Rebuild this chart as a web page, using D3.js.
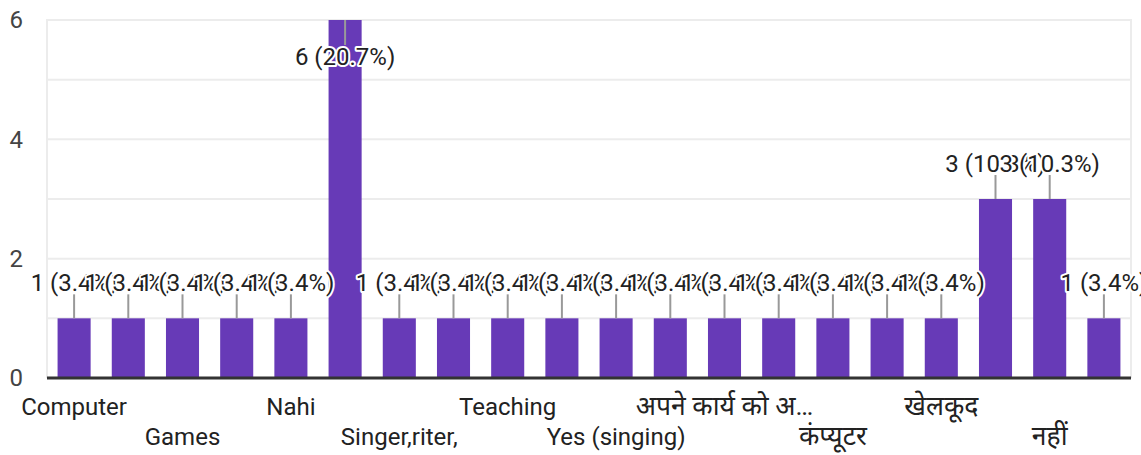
<!DOCTYPE html>
<html>
<head>
<meta charset="utf-8">
<script src="https://cdn.jsdelivr.net/npm/d3@7"></script>
<style>
  body { margin: 0; background: #fff; overflow: hidden; }
  text { font-family: Roboto, "Noto Sans", Arial, sans-serif; }
</style>
</head>
<body>
<div id="chart"></div>
<script>
// Answer options (every other one is hidden on the axis, as in the form summary)
const categories = [
  "Computer", "Dancing", "Games", "Music", "Nahi", "No",
  "Singer,riter,", "Singing", "Teaching", "Yes",
  "Yes (singing)", "अध्ययन", "अपने कार्य को अ…", "कुछ नहीं",
  "कंप्यूटर", "खेल", "खेलकूद", "गाना", "नहीं", "पढ़ाई"
];
const counts = [1, 1, 1, 1, 1, 6, 1, 1, 1, 1, 1, 1, 1, 1, 1, 1, 1, 3, 3, 1];
const yTicks = [0, 2, 4, 6];
const gridTicks = [0, 1, 2, 3, 4, 5, 6];

const width = 1141;
const height = 455;
const margin = { top: 20, right: 10, bottom: 77, left: 47 };

const total = d3.sum(counts);
const data = categories.map((c, i) => ({ name: c, value: counts[i], idx: i }));
const isHindi = s => /[\u0900-\u097F]/.test(s);

const svg = d3.select("#chart")
  .append("svg")
  .attr("width", width)
  .attr("height", height);

const x = d3.scaleBand()
  .domain(categories)
  .range([margin.left, width - margin.right])
  .paddingInner(0.39)
  .paddingOuter(0.195);

const y = d3.scaleLinear()
  .domain([0, 6])
  .range([height - margin.bottom, margin.top]);

// Gridlines
svg.append("g")
  .selectAll("line")
  .data(gridTicks)
  .enter()
  .append("line")
  .attr("x1", margin.left)
  .attr("x2", width - margin.right)
  .attr("y1", d => y(d))
  .attr("y2", d => y(d))
  .attr("stroke", "#ececec")
  .attr("stroke-width", 2);

// left / right frame lines
[margin.left, width - margin.right].forEach(px => {
  svg.append("line")
    .attr("x1", px).attr("x2", px)
    .attr("y1", y(6) - 1).attr("y2", y(0))
    .attr("stroke", "#ececec")
    .attr("stroke-width", 2);
});

// Y axis labels
const yAxis = svg.append("g")
  .attr("transform", `translate(${margin.left}, 0)`)
  .call(d3.axisLeft(y).tickValues(yTicks).tickFormat(d3.format("d")).tickSize(0).tickPadding(24));
yAxis.select(".domain").remove();
yAxis.selectAll("text")
  .attr("font-size", 24)
  .attr("font-family", "Roboto, Arial, sans-serif")
  .attr("fill", "#444");

// Bars
svg.append("g")
  .selectAll("rect")
  .data(data)
  .enter()
  .append("rect")
  .attr("x", d => x(d.name))
  .attr("y", d => y(d.value))
  .attr("width", x.bandwidth())
  .attr("height", d => y(0) - y(d.value))
  .attr("fill", "#673ab7");

// Baseline
svg.append("line")
  .attr("x1", margin.left)
  .attr("x2", width - margin.right)
  .attr("y1", y(0))
  .attr("y2", y(0))
  .attr("stroke", "#333")
  .attr("stroke-width", 3);

// X axis labels, staggered in two rows
const shown = categories.filter((c, i) => i % 2 === 0);
const xAxis = svg.append("g")
  .attr("transform", `translate(0, ${y(0)})`)
  .call(d3.axisBottom(x).tickValues(shown).tickSize(0).tickPadding(0));
xAxis.select(".domain").remove();
xAxis.selectAll("text")
  .attr("font-size", d => (isHindi(d) ? 26.5 : 24))
  .attr("font-family", "Roboto, 'Noto Sans', Arial, sans-serif")
  .attr("fill", "#222")
  .attr("dy", null)
  .attr("y", d => (categories.indexOf(d) % 4 === 0 ? 37 : 67));

// Value labels with leader lines
const lineLen = 24;
const labels = svg.append("g");
data.forEach(d => {
  const cx = x(d.name) + x.bandwidth() / 2;
  const top = y(d.value);
  const inside = top - lineLen - 22 < margin.top;
  const y2 = inside ? top + lineLen + 1 : top - lineLen;
  labels.append("line")
    .attr("x1", cx).attr("x2", cx)
    .attr("y1", top).attr("y2", y2)
    .attr("stroke", "#999")
    .attr("stroke-width", 2);
  labels.append("text")
    .attr("x", cx)
    .attr("y", inside ? y2 + 20 : y2 - 3)
    .attr("text-anchor", "middle")
    .attr("font-size", 24)
    .attr("fill", "#222")
    .attr("stroke", "#fff")
    .attr("stroke-width", 4)
    .attr("stroke-linejoin", "round")
    .attr("paint-order", "stroke")
    .text(`${d.value} (${d3.format(".1f")(d.value / total * 100)}%)`);
});
</script>
</body>
</html>
